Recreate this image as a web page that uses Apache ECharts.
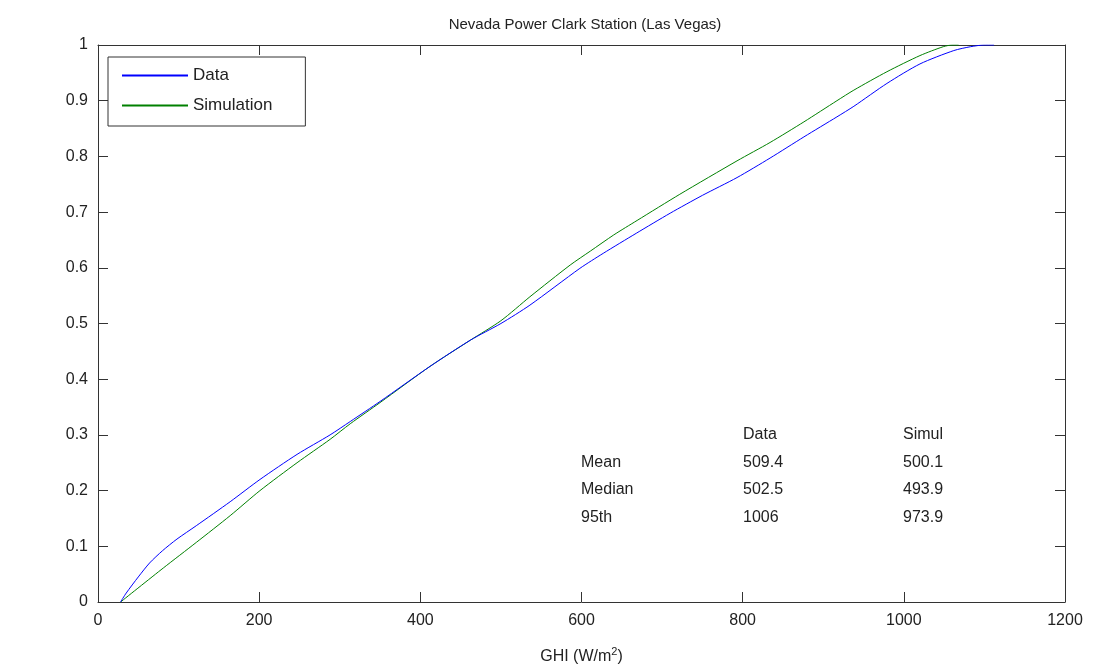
<!DOCTYPE html>
<html><head><meta charset="utf-8">
<script src="https://cdn.jsdelivr.net/npm/echarts@6/dist/echarts.min.js"></script>
<style>html,body{margin:0;padding:0;background:#fff}#c{width:1093px;height:671px}</style>
</head><body><div id="c"></div>
<script>
const titleText = 'Nevada Power Clark Station (Las Vegas)';
const xTicks = [0, 200, 400, 600, 800, 1000, 1200];
const dataGHI = [28,35,50,64,80,98,122,164,201,247,288,313,350,412,462,500,536,598,627,668,710,750,793,834,876,917,938,979,1020,1062,1083,1100,1112];
const dataCDF = [0,0.016,0.045,0.070,0.092,0.113,0.137,0.180,0.220,0.265,0.300,0.324,0.360,0.423,0.470,0.500,0.533,0.599,0.626,0.662,0.698,0.730,0.762,0.797,0.835,0.871,0.890,0.931,0.966,0.990,0.997,1.0,1.0];
const simGHI = [28,81,122,164,201,247,288,313,350,412,462,500,536,586,611,640,669,722,793,834,876,917,938,979,1020,1049,1060,1068];
const simCDF = [0,0.061,0.107,0.155,0.200,0.250,0.292,0.320,0.358,0.423,0.470,0.505,0.548,0.605,0.630,0.659,0.685,0.732,0.792,0.825,0.862,0.900,0.919,0.952,0.981,0.997,1.0,1.0];
const statHeaders = ['', 'Data', 'Simul'];
const statRows = ['Mean', 'Median', '95th'];
const statData = ['509.4', '502.5', '1006'];
const statSim = ['500.1', '493.9', '973.9'];

const font = 'Liberation Sans, Arial, sans-serif';
const chart = echarts.init(document.getElementById('c'));
const pair = (xs, ys) => xs.map((x, i) => [x, ys[i]]);

const texts = [];
const colX = [581, 743, 903];
const rowY = [436, 464, 491, 519];
statHeaders.forEach((h, i) => { if (h) texts.push({type:'text', left: colX[i], top: rowY[0]-9, style:{text:h, font:'16px '+font, fill:'#222'}}); });
statRows.forEach((r, i) => {
  [r, statData[i], statSim[i]].forEach((t, j) => texts.push({type:'text', left: colX[j], top: rowY[i+1]-9, style:{text:t, font:'16px '+font, fill:'#222'}}));
});

const axisCommon = () => ({
  axisLine:{show:true, onZero:false, lineStyle:{color:'#333', width:1}},
  axisTick:{show:true, inside:true, length:10, lineStyle:{color:'#333'}},
  splitLine:{show:false}
});

chart.setOption({
  animation:false,
  backgroundColor:'#fff',
  title:{text:titleText, left:580, top:12, textAlign:'center', textStyle:{fontFamily:font, fontSize:15, fontWeight:'normal', color:'#222'}},
  grid:{left:98, right:28, top:45, bottom:69, show:false},
  legend:{
    left:108, top:57, orient:'vertical', itemWidth:66, itemHeight:2, itemGap:13,
    padding:[10, 33, 12, 14], borderColor:'#333', borderWidth:1, backgroundColor:'#fff',
    icon:'rect',
    textStyle:{fontFamily:font, fontSize:17, color:'#222'},
    data:['Data','Simulation']
  },
  xAxis:[
    Object.assign({type:'value', min:xTicks[0], max:xTicks[xTicks.length-1], interval:200, position:'bottom',
      name:'GHI (W/m{sup|2})', nameLocation:'middle', nameGap:44,
      nameTextStyle:{fontFamily:font, fontSize:16, color:'#222', rich:{sup:{fontSize:11, verticalAlign:'top', padding:[0,0,10,0], fontFamily:font, color:'#222'}}},
      axisLabel:{fontFamily:font, fontSize:16, color:'#222', margin:11, formatter:v => String(v)}}, axisCommon()),
    Object.assign({type:'value', min:0, max:1200, interval:200, position:'top', axisLabel:{show:false}}, axisCommon())
  ],
  yAxis:[
    Object.assign({type:'value', min:0, max:1, interval:0.1, position:'left',
      axisLabel:{fontFamily:font, fontSize:16, color:'#222', margin:10}}, axisCommon()),
    Object.assign({type:'value', min:0, max:1, interval:0.1, position:'right', axisLabel:{show:false}}, axisCommon())
  ],
  series:[
    {name:'Data', type:'line', data:pair(dataGHI, dataCDF), showSymbol:false, symbol:'none', smooth:0.25, lineStyle:{color:'#0000ff', width:1}, itemStyle:{color:'#0000ff'}, z:3},
    {name:'Simulation', type:'line', data:pair(simGHI, simCDF), showSymbol:false, symbol:'none', smooth:0.25, lineStyle:{color:'#008000', width:1}, itemStyle:{color:'#008000'}, z:2}
  ],
  graphic:texts
});
</script></body></html>
